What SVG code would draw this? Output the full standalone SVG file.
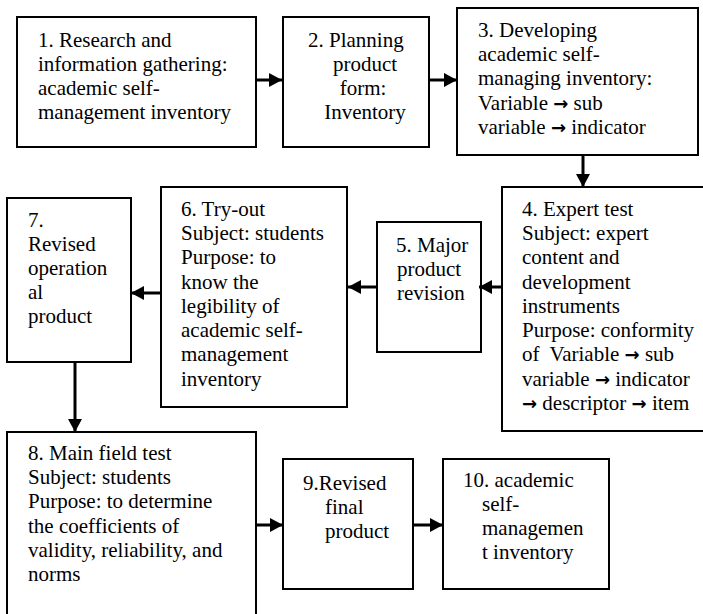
<svg xmlns="http://www.w3.org/2000/svg" width="703" height="614" viewBox="0 0 703 614">
<style>
.box{fill:#fff;stroke:#000;stroke-width:2}
text{font-family:'Liberation Serif','Times New Roman','DejaVu Serif',serif;font-size:21px;fill:#000}
.c{text-anchor:middle}
.ar{font-family:'DejaVu Sans',sans-serif;font-weight:bold;font-size:18px}
.conn line{stroke:#000;stroke-width:3}
</style>
<defs>
<marker id="ah" markerUnits="userSpaceOnUse" markerWidth="14" markerHeight="14" refX="13" refY="7" orient="auto">
<path d="M0,0 L13,7 L0,14 Z" fill="#000"/>
</marker>
</defs>
<rect width="703" height="614" fill="#fff"/>
<g id="node1">
<rect class="box" x="17" y="17" width="239" height="130"/>
<text x="38" y="47">1. Research and</text>
<text x="38" y="71">information gathering:</text>
<text x="38" y="95">academic self-</text>
<text x="38" y="119">management inventory</text>
</g>
<g id="node2">
<rect class="box" x="283" y="17" width="146" height="130"/>
<text x="308" y="47">2. Planning</text>
<text class="c" x="365" y="71">product</text>
<text class="c" x="363" y="95">form:</text>
<text class="c" x="365" y="119">Inventory</text>
</g>
<g id="node3">
<rect class="box" x="457" y="8" width="241" height="147"/>
<text x="478" y="37">3. Developing</text>
<text x="478" y="61">academic self-</text>
<text x="478" y="85">managing inventory:</text>
<text x="478" y="110">Variable <tspan class="ar">→</tspan> sub</text>
<text x="478" y="134">variable <tspan class="ar">→</tspan> indicator</text>
</g>
<g id="node4">
<rect class="box" x="502" y="187" width="210" height="244"/>
<text x="522" y="216">4. Expert test</text>
<text x="522" y="240">Subject: expert</text>
<text x="522" y="264">content and</text>
<text x="522" y="289">development</text>
<text x="522" y="313">instruments</text>
<text x="522" y="337">Purpose: conformity</text>
<text x="522" y="361">of <tspan dx="5">Variable</tspan> <tspan class="ar">→</tspan> sub</text>
<text x="522" y="386">variable <tspan class="ar">→</tspan> indicator</text>
<text x="522" y="410"><tspan class="ar">→</tspan> descriptor <tspan class="ar">→</tspan> item</text>
</g>
<g id="node5">
<rect class="box" x="377" y="222" width="104" height="130"/>
<text x="396" y="252">5. Major</text>
<text x="397" y="276">product</text>
<text x="397" y="300">revision</text>
</g>
<g id="node6">
<rect class="box" x="161" y="187" width="186" height="220"/>
<text x="181" y="216">6. Try-out</text>
<text x="181" y="240">Subject: students</text>
<text x="181" y="264">Purpose: to</text>
<text x="181" y="289">know the</text>
<text x="181" y="313">legibility of</text>
<text x="181" y="337">academic self-</text>
<text x="181" y="361">management</text>
<text x="181" y="386">inventory</text>
</g>
<g id="node7">
<rect class="box" x="7" y="198" width="124" height="164"/>
<text x="28" y="227">7.</text>
<text x="28" y="251">Revised</text>
<text x="28" y="275">operation</text>
<text x="28" y="299">al</text>
<text x="28" y="323">product</text>
</g>
<g id="node8">
<rect class="box" x="7" y="432" width="249" height="200"/>
<text x="28" y="460">8. Main field test</text>
<text x="28" y="484">Subject: students</text>
<text x="28" y="508">Purpose: to determine</text>
<text x="28" y="533">the coefficients of</text>
<text x="28" y="557">validity, reliability, and</text>
<text x="28" y="581">norms</text>
</g>
<g id="node9">
<rect class="box" x="283" y="459" width="130" height="130"/>
<text x="303" y="490">9.Revised</text>
<text x="325" y="514">final</text>
<text x="325" y="538">product</text>
</g>
<g id="node10">
<rect class="box" x="443" y="459" width="166" height="130"/>
<text x="463" y="487">10. academic</text>
<text x="482" y="511">self-</text>
<text x="482" y="535">managemen</text>
<text x="482" y="559">t inventory</text>
</g>
<g id="connectors" class="conn">
<line x1="256" y1="80" x2="282" y2="80" marker-end="url(#ah)"/>
<line x1="429" y1="80" x2="457" y2="80" marker-end="url(#ah)"/>
<line x1="583" y1="155" x2="583" y2="187" marker-end="url(#ah)"/>
<line x1="502" y1="287" x2="479" y2="287" marker-end="url(#ah)"/>
<line x1="377" y1="287" x2="348" y2="287" marker-end="url(#ah)"/>
<line x1="161" y1="293" x2="131" y2="293" marker-end="url(#ah)"/>
<line x1="75" y1="362" x2="75" y2="432" marker-end="url(#ah)"/>
<line x1="256" y1="525" x2="283" y2="525" marker-end="url(#ah)"/>
<line x1="413" y1="525" x2="443" y2="525" marker-end="url(#ah)"/>
</g>
</svg>
